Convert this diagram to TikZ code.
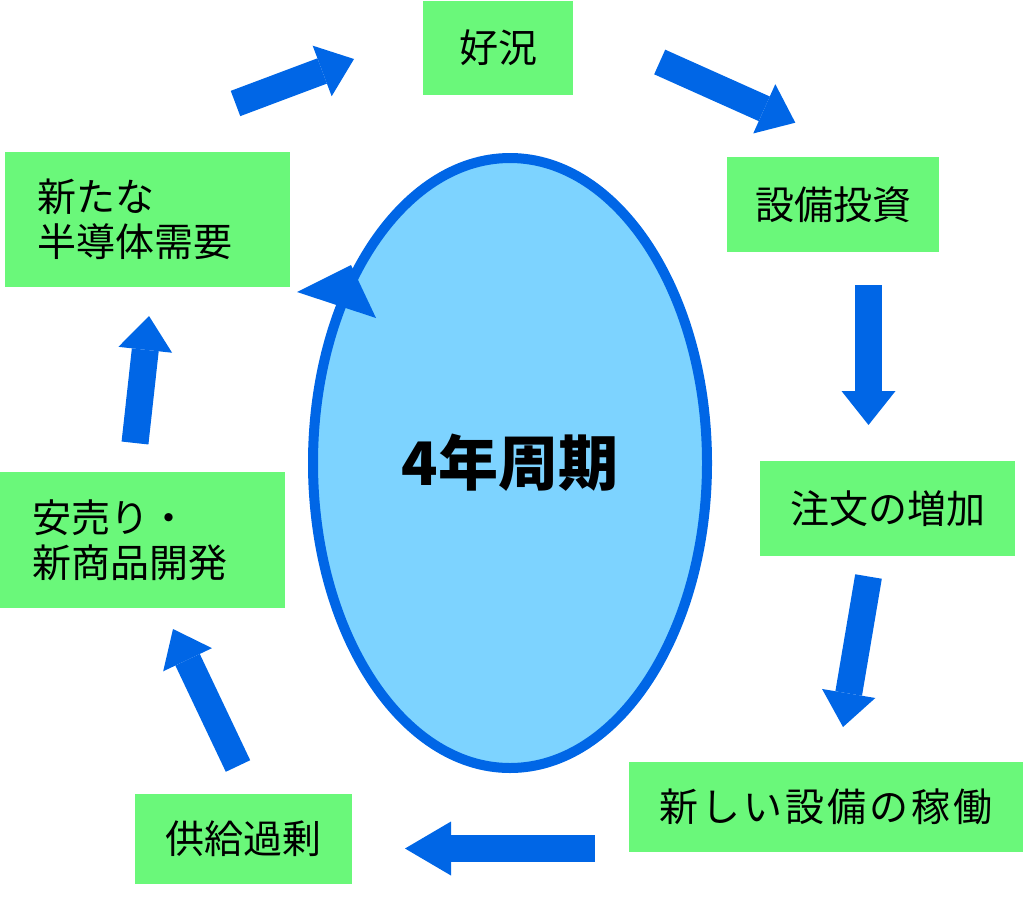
\documentclass[tikz,border=0pt]{standalone}
\usepackage{fontspec}
\setmainfont{Noto Sans CJK JP}
\usepackage{tikz}
\usetikzlibrary{arrows.meta, shapes.geometric}
\definecolor{boxgreen}{RGB}{106,248,122}
\definecolor{flowblue}{RGB}{0,102,230}
\definecolor{cyclefill}{RGB}{125,211,255}

\begin{document}
\begin{tikzpicture}[x=1pt, y=-1pt,
	phase/.style={fill=boxgreen, inner sep=0pt, font=\fontsize{39}{45.5}\selectfont},
	flow/.style={draw=flowblue, line width=27pt, -{Triangle[length=34pt, width=54pt, line width=0pt]}}]
	\useasboundingbox (0,0) rectangle (1024,918);

	\node[draw=flowblue, fill=cyclefill, line width=10pt, ellipse, inner sep=0pt,
		minimum width=394pt, minimum height=610pt, font=\fontsize{60}{60}\selectfont\bfseries]
		(cycle) at (510,463) {4年周期};
	\fill[flowblue] (297,292) -- (351,265) -- (376,318) -- cycle;

	\node[phase, minimum width=150pt, minimum height=94pt] (kyo) at (498,48) {好況};
	\node[phase, minimum width=212pt, minimum height=95pt] (setsubi) at (833,204.5) {設備投資};
	\node[phase, minimum width=255pt, minimum height=95pt] (chumon) at (887.5,508.5) {注文の増加};
	\node[phase, minimum width=394pt, minimum height=90pt] (kado) at (826,807) {\addfontfeatures{LetterSpace=8}新しい設備の稼働};
	\node[phase, minimum width=217pt, minimum height=90pt] (kajo) at (243.5,839) {供給過剰};
	\node[phase, minimum width=285pt, minimum height=136pt, text width=221pt, align=left] (yasuuri) at (142.5,540) {安売り・\\新商品開発};
	\node[phase, minimum width=285pt, minimum height=135pt, text width=221pt, align=left] (juyo) at (147.5,219.5) {新たな\\半導体需要};

	\coordinate (f1a) at (235.5,103.5);  \coordinate (f1b) at (354,59);
	\coordinate (f2a) at (659.7,62);     \coordinate (f2b) at (795.3,122.7);
	\coordinate (f3a) at (868.5,285);    \coordinate (f3b) at (868.5,425);
	\coordinate (f4a) at (868.5,576.5);  \coordinate (f4b) at (843,727);
	\coordinate (f5a) at (595,848.5);    \coordinate (f5b) at (405,848.5);
	\coordinate (f6a) at (238,766);      \coordinate (f6b) at (173,629);
	\coordinate (f7a) at (135,443);      \coordinate (f7b) at (149,316);

	\draw[flow] (f1a) -- (f1b);
	\draw[flow] (f2a) -- (f2b);
	\draw[flow] (f3a) -- (f3b);
	\draw[flow] (f4a) -- (f4b);
	\draw[flow, -{Triangle[length=46pt, width=54pt, line width=0pt]}] (f5a) -- (f5b);
	\draw[flow] (f6a) -- (f6b);
	\draw[flow] (f7a) -- (f7b);
\end{tikzpicture}
\end{document}
